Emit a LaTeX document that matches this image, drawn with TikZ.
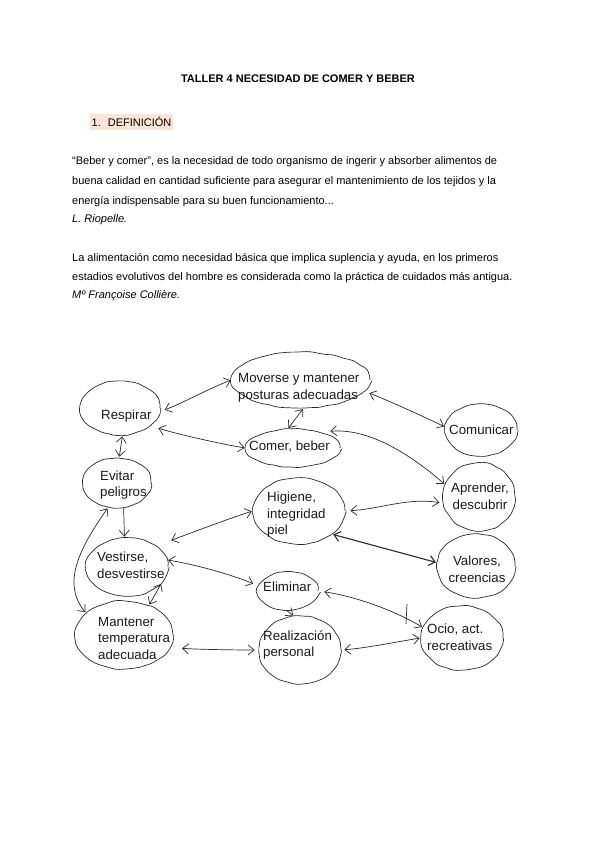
\documentclass[tikz,border=0pt]{standalone}
\usepackage{fontspec}
\setmainfont{Liberation Sans}
\usetikzlibrary{shapes.geometric,arrows.meta,decorations.pathmorphing}
\definecolor{ink}{HTML}{2A2A2A}
\definecolor{txt}{HTML}{1A1A1A}
\definecolor{hl}{HTML}{FCE4D6}
\begin{document}
\pgfmathsetseed{7}
\begin{tikzpicture}[x=1pt,y=-1pt,
  >={Straight Barb[length=6pt,width=10pt]},
  body/.style={anchor=base west,inner sep=0pt,font=\fontsize{11}{13}\selectfont},
  blob/.style={ellipse,draw=ink,line width=0.7pt,decorate,
    decoration={random steps,segment length=6pt,amplitude=0.7pt},rounded corners=2pt,inner sep=0pt},
  lbl/.style={anchor=west,align=left,inner sep=0pt,font=\fontsize{13.3}{16.5}\selectfont,text=txt},
  con/.style={draw=ink,line width=0.7pt,<->,shorten <=1pt,shorten >=1pt},
  arr/.style={draw=ink,line width=0.7pt,->,shorten >=1pt},
]
\useasboundingbox (0,0) rectangle (600,848);
\fill[white] (0,0) rectangle (600,848);

% header text
\node[anchor=base,inner sep=0pt,font=\bfseries\fontsize{11}{13}\selectfont] (title) at (298,83) {TALLER 4 NECESIDAD DE COMER Y BEBER};
\node[anchor=base west,fill=hl,inner xsep=1.5pt,inner ysep=3pt,font=\fontsize{11}{13}\selectfont] (sec) at (90,127) {1.\hspace{7pt}DEFINICIÓN};
\node[body] (l1) at (72,164) {“Beber y comer”, es la necesidad de todo organismo de ingerir y absorber alimentos de};
\node[body] (l2) at (72,184) {buena calidad en cantidad suficiente para asegurar el mantenimiento de los tejidos y la};
\node[body] (l3) at (72,204) {energía indispensable para su buen funcionamiento...};
\node[body,font=\itshape\fontsize{11}{13}\selectfont] (l4) at (72,222) {L. Riopelle.};
\node[body] (l5) at (72,261) {La alimentación como necesidad básica que implica suplencia y ayuda, en los primeros};
\node[body] (l6) at (72,280) {estadios evolutivos del hombre es considerada como la práctica de cuidados más antigua.};
\node[body,font=\itshape\fontsize{11}{13}\selectfont] (l7) at (72,298) {Mº Françoise Collière.};

% blobs
\node[blob,minimum width=80pt,minimum height=54pt] (resp) at (120,408) {};
\node[blob,minimum width=138pt,minimum height=56pt] (mov) at (301,380) {};
\node[blob,minimum width=94pt,minimum height=38pt] (comer) at (293,448) {};
\node[blob,minimum width=72pt,minimum height=52pt] (comun) at (481,430) {};
\node[blob,minimum width=72pt,minimum height=68pt] (aprender) at (479,497) {};
\node[blob,minimum width=68pt,minimum height=50pt] (evit) at (117,483) {};
\node[blob,minimum width=92pt,minimum height=66pt] (hig) at (299,511) {};
\node[blob,minimum width=82pt,minimum height=58pt] (vest) at (127,567) {};
\node[blob,minimum width=78pt,minimum height=64pt] (val) at (476,566) {};
\node[blob,minimum width=60pt,minimum height=38pt] (elim) at (288,591) {};
\node[blob,minimum width=82pt,minimum height=64pt] (ocio) at (462,638) {};
\node[blob,minimum width=98pt,minimum height=68pt] (mant) at (124,635) {};
\node[blob,minimum width=82pt,minimum height=68pt] (real) at (300,650) {};

% labels
\node[lbl] (tresp) at (101,416) {Respirar};
\node[lbl] (tmov) at (238,388) {Moverse y mantener\\posturas adecuadas};
\node[lbl] (tcomer) at (249,447) {Comer, beber};
\node[lbl] (tcomun) at (449,430) {Comunicar};
\node[lbl,anchor=center,align=center] (taprender) at (480,496) {Aprender,\\descubrir};
\node[lbl] (tevit) at (100,485) {Evitar\\peligros};
\node[lbl] (thig) at (267,515) {Higiene,\\integridad\\piel};
\node[lbl] (tvest) at (97,565) {Vestirse,\\desvestirse};
\node[lbl,anchor=center,align=center] (tval) at (477,569) {Valores,\\creencias};
\node[lbl] (telim) at (263,587) {Eliminar};
\node[lbl] (tocio) at (427,637) {Ocio, act.\\recreativas};
\node[lbl] (tmant) at (98,638) {Mantener\\temperatura\\adecuada};
\node[lbl] (treal) at (263,645) {Realización\\personal};

% connectors
\draw[con,shorten <=5pt] (resp.-5) .. controls +(22,-8) and +(-22,8) .. (mov.west);
\draw[con,shorten <=8pt] (resp.-30) .. controls +(25,8) and +(-25,-4) .. (comer.west);
\draw[con] (mov.-85) -- (comer.105);
\draw[con,shorten <=5pt] (mov.-10) .. controls +(25,10) and +(-25,-12) .. (comun.175);
\draw[con,shorten <=10pt] (comer.30) .. controls +(45,-4) and +(-40,-35) .. (aprender.160);
\draw[con,shorten <=4pt,shorten >=5pt] (aprender.190) .. controls +(-35,-6) and +(35,-2) .. (hig.east);
\draw[con,line width=1.1pt] (hig.-35) -- (val.175);
\draw[con] (evit.85) -- (resp.-85);
\draw[arr] (evit.-75) -- (vest.95);
\draw[con] (evit.-110) .. controls +(-28,40) and +(-25,-30) .. (mant.150);
\draw[con] (vest.-25) -- (mant.50);
\draw[con,shorten >=16pt] (hig.west) .. controls +(-25,8) and +(25,-10) .. (vest.35);
\draw[con,shorten >=6pt] (vest.10) .. controls +(30,5) and +(-30,-12) .. (elim.170);
\draw[con,shorten <=12pt,shorten >=4pt] (mant.-15) .. controls +(25,2) and +(-25,0) .. (real.west);
\draw[con,shorten <=6pt] (elim.east) .. controls +(35,5) and +(-30,-18) .. (ocio.165);
\coordinate (kink) at (406,624);
\draw[ink,line width=0.7pt] (kink) -- ++(1,-20);
\draw[con,shorten <=3pt] (real.east) .. controls +(25,-2) and +(-25,4) .. (ocio.west);
\draw[arr] (elim.-95) -- (real.100);
\end{tikzpicture}
\end{document}
